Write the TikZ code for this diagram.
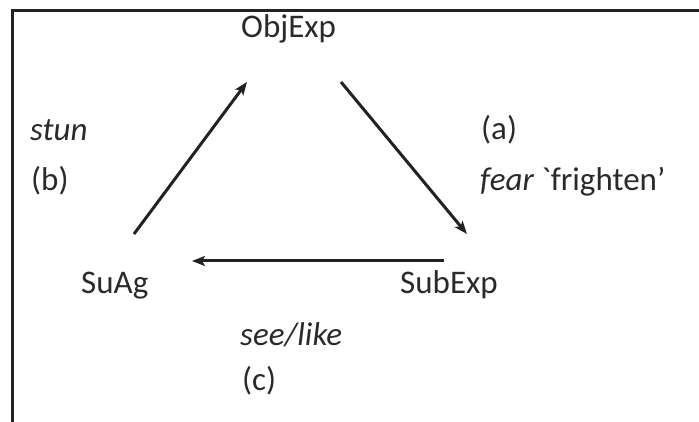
\documentclass[tikz,border=0pt]{standalone}
\usepackage{fontspec}
\setmainfont{Carlito}
\newfontfamily\plainfont{Carlito}
\usetikzlibrary{arrows.meta}
\definecolor{ink}{HTML}{222222}
\definecolor{txt}{HTML}{2a2a2a}
\begin{document}
\begin{tikzpicture}[x=1pt,y=-1pt,
  lbl/.style={anchor=base west,inner sep=0pt,text=txt,font=\fontsize{33}{33}\selectfont},
  conn/.style={line width=3pt,draw=ink,-{Stealth[length=13pt,width=10pt,inset=3pt]}},
  frame/.style={line width=3pt,draw=ink}]
\useasboundingbox (0,0) rectangle (699,422);
\draw[frame] (699,11) -- (12,11) -- (12,422);
\node[lbl] (obj) at (241,37.5) {ObjExp};
\node[lbl] (suag) at (81,294) {SuAg};
\node[lbl] (sub) at (400,294) {SubExp};
\node[lbl] (stun) at (30,140.5) {\itshape stun};
\node[lbl] (b) at (31,190.5) {(b)};
\node[lbl] (a) at (481,140) {(a)};
\node[lbl] (fear) at (480,190.5) {\itshape fear\upshape\ {\plainfont`}frighten’};
\node[lbl] (see) at (240,345) {\itshape see/like};
\node[lbl] (c) at (242,390) {(c)};
\coordinate (b1) at (134,234);
\coordinate (b2) at (247,82);
\coordinate (a1) at (341,82);
\coordinate (a2) at (467,234);
\coordinate (c1) at (444,261);
\coordinate (c2) at (192,261);
\draw[conn] (b1) -- (b2);
\draw[conn] (a1) -- (a2);
\draw[conn] (c1) -- (c2);
\end{tikzpicture}
\end{document}
